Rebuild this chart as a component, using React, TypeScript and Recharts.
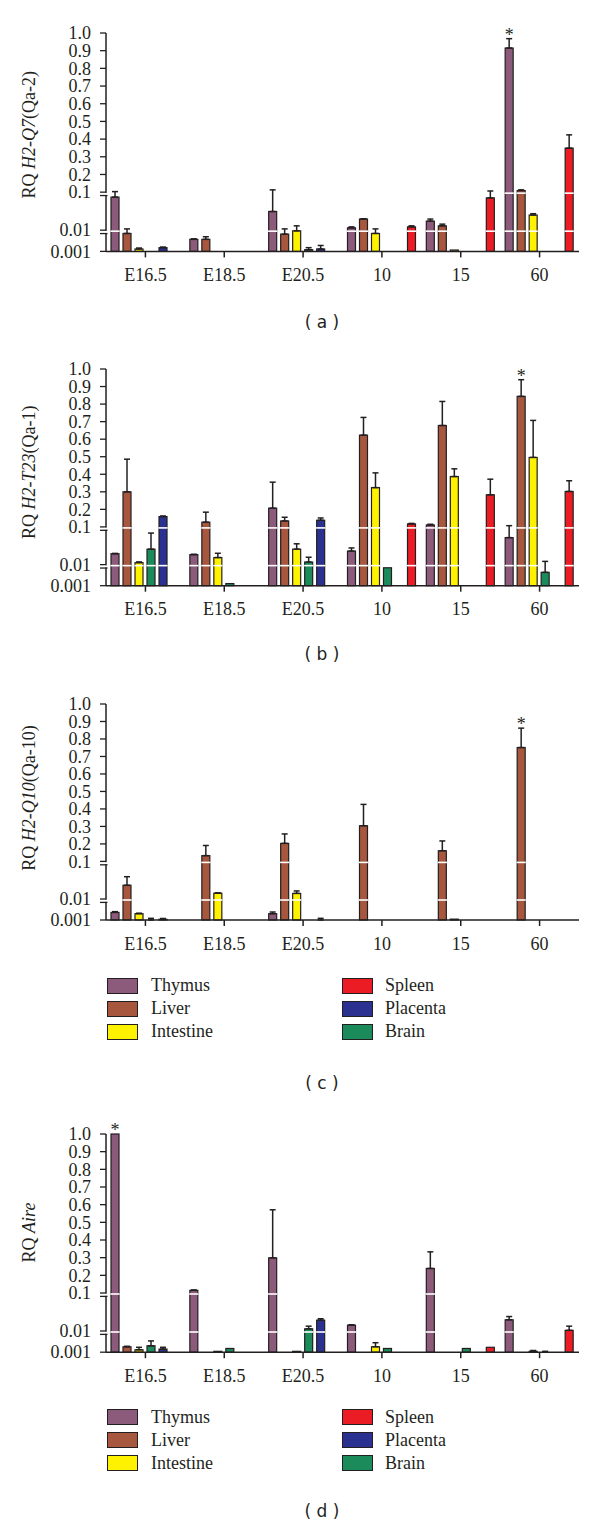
import React from 'react';
import { BarChart, Bar, XAxis, YAxis, ErrorBar, Legend } from 'recharts';

const CATEGORIES = ['E16.5', 'E18.5', 'E20.5', '10', '15', '60'];
const TISSUES = ['Thymus', 'Liver', 'Intestine', 'Brain', 'Placenta', 'Spleen'];
const LEGEND_ORDER = ['Thymus', 'Liver', 'Intestine', 'Spleen', 'Placenta', 'Brain'];
const Y_TICK_LABELS = [0.001, 0.01, 0.1, 0.2, 0.3, 0.4, 0.5, 0.6, 0.7, 0.8, 0.9, 1.0];
const BREAKS = [0.01, 0.1];

const COLORS: Record<string, string> = {
  Thymus: '#8c5a7b',
  Liver: '#a8573f',
  Intestine: '#fff200',
  Brain: '#1b8b5b',
  Placenta: '#2b3190',
  Spleen: '#ec1c24',
};

// (a) H2-Q7 (Qa-2)
const QA2_THYMUS = [0.074, 0.0037, 0.031, 0.0115, 0.0173, 0.915];
const QA2_THYMUS_ERR = [0.029, 0.0002, 0.082, 0.0007, 0.0023, 0.053];
const QA2_LIVER = [0.007, 0.0037, 0.0065, 0.0196, 0.013, 0.109];
const QA2_LIVER_ERR = [0.0038, 0.0012, 0.0043, 0.0004, 0.0014, 0.004];
const QA2_INTESTINE = [0.0013, null, 0.0093, 0.007, 0.00116, 0.025];
const QA2_INTESTINE_ERR = [0.00014, null, 0.0037, 0.0038, null, 0.0021];
const QA2_BRAIN = [null, null, 0.0012, null, null, null];
const QA2_BRAIN_ERR = [null, null, 0.0003, null, null, null];
const QA2_PLACENTA = [0.0015, null, 0.0013, null, null, null];
const QA2_PLACENTA_ERR = [0.0001, null, 0.0006, null, null, null];
const QA2_SPLEEN = [null, null, null, 0.0122, 0.0706, 0.349];
const QA2_SPLEEN_ERR = [null, null, null, 0.0008, 0.036, 0.075];

// (b) H2-T23 (Qa-1)
const QA1_THYMUS = [0.0195, 0.0184, 0.207, 0.0229, 0.111, 0.052];
const QA1_THYMUS_ERR = [0.0003, 0.0004, 0.148, 0.0048, 0.004, 0.055];
const QA1_LIVER = [0.3, 0.127, 0.134, 0.623, 0.678, 0.844];
const QA1_LIVER_ERR = [0.186, 0.057, 0.021, 0.101, 0.137, 0.095];
const QA1_INTESTINE = [0.0113, 0.0154, 0.0257, 0.324, 0.387, 0.496];
const QA1_INTESTINE_ERR = [0.0005, 0.0046, 0.01, 0.084, 0.044, 0.211];
const QA1_BRAIN = [0.0257, 0.00126, 0.0117, 0.0071, null, 0.0043];
const QA1_BRAIN_ERR = [0.043, null, 0.004, null, null, 0.0079];
const QA1_PLACENTA = [0.159, null, 0.138, null, null, null];
const QA1_PLACENTA_ERR = [0.003, null, 0.013, null, null, null];
const QA1_SPLEEN = [null, null, null, 0.117, 0.283, 0.302];
const QA1_SPLEEN_ERR = [null, null, null, 0.003, 0.089, 0.061];

// (c) H2-Q10 (Qa-10)
const QA10_THYMUS = [0.0023, null, 0.002, null, null, null];
const QA10_THYMUS_ERR = [0.0002, null, 0.0004, null, null, null];
const QA10_LIVER = [0.0232, 0.133, 0.203, 0.304, 0.161, 0.751];
const QA10_LIVER_ERR = [0.016, 0.058, 0.054, 0.122, 0.056, 0.111];
const QA10_INTESTINE = [0.002, 0.0143, 0.0141, null, 0.0011, null];
const QA10_INTESTINE_ERR = [0.0001, 0.0002, 0.0023, null, null, null];
const QA10_BRAIN = [0.001, null, null, null, null, null];
const QA10_BRAIN_ERR = [0.0002, null, null, null, null, null];
const QA10_PLACENTA = [0.00108, null, 0.001, null, null, null];
const QA10_PLACENTA_ERR = [0.0001, null, 0.0002, null, null, null];
const QA10_SPLEEN = [null, null, null, null, null, null];
const QA10_SPLEEN_ERR = [null, null, null, null, null, null];

// (d) Aire
const AIRE_THYMUS = [1.0, 0.115, 0.299, 0.0142, 0.239, 0.0197];
const AIRE_THYMUS_ERR = [null, 0.002, 0.272, 0.0004, 0.094, 0.0043];
const AIRE_LIVER = [0.0018, null, null, null, null, null];
const AIRE_LIVER_ERR = [0.0001, null, null, null, null, null];
const AIRE_INTESTINE = [0.0013, 0.0011, 0.0011, 0.0018, null, 0.0011];
const AIRE_INTESTINE_ERR = [0.0004, null, null, 0.001, null, 0.0001];
const AIRE_BRAIN = [0.002, 0.0015, 0.0114, 0.0015, 0.0015, 0.001];
const AIRE_BRAIN_ERR = [0.0014, null, 0.002, null, null, 0.0001];
const AIRE_PLACENTA = [0.0014, null, 0.0193, null, null, null];
const AIRE_PLACENTA_ERR = [0.0003, null, 0.0017, null, null, null];
const AIRE_SPLEEN = [null, null, null, null, 0.0017, 0.0104];
const AIRE_SPLEEN_ERR = [null, null, null, null, null, 0.003];

const INK = '#231f20';
const SERIF = '"Liberation Serif", "DejaVu Serif", serif';
const SANS = '"DejaVu Sans", sans-serif';

// broken axis: two log decades below 0.1, linear from 0.1 to 1.0
const S1 = 1.2;
const S2 = 2.15;
const TOP = S1 + S2 + 9;

const toDisplay = (v: number | null) => {
  if (v == null) return null;
  if (v <= 0.001) return 0;
  if (v <= 0.01) return S1 * Math.log10(v / 0.001);
  if (v <= 0.1) return S1 + S2 * Math.log10(v / 0.01);
  return S1 + S2 + (v - 0.1) * 10;
};

const Y_TICKS = Y_TICK_LABELS.map((v) => toDisplay(v) as number);

const buildRows = (means: Record<string, any[]>, errs: Record<string, any[]>) =>
  CATEGORIES.map((cat, i) => {
    const row: any = { cat };
    TISSUES.forEach((t) => {
      const v = means[t][i];
      const e = errs[t][i];
      row[t] = toDisplay(v);
      row[`${t}_raw`] = v;
      row[`${t}_err`] = v == null || !e ? null : [0, (toDisplay(v + e) as number) - (toDisplay(v) as number)];
    });
    return row;
  });

const PANELS = [
  {
    id: 'a',
    plotTop: 33.3,
    plotH: 218.4,
    labelY: 135,
    captionY: 322,
    legend: false,
    title: [{ t: 'RQ ' }, { t: 'H2-Q7', i: true }, { t: '(Qa-2)' }],
    stars: [['60', 'Thymus']],
    rows: buildRows(
      { Thymus: QA2_THYMUS, Liver: QA2_LIVER, Intestine: QA2_INTESTINE, Brain: QA2_BRAIN, Placenta: QA2_PLACENTA, Spleen: QA2_SPLEEN },
      { Thymus: QA2_THYMUS_ERR, Liver: QA2_LIVER_ERR, Intestine: QA2_INTESTINE_ERR, Brain: QA2_BRAIN_ERR, Placenta: QA2_PLACENTA_ERR, Spleen: QA2_SPLEEN_ERR }
    ),
  },
  {
    id: 'b',
    plotTop: 369.3,
    plotH: 216.7,
    labelY: 472.5,
    captionY: 654,
    legend: false,
    title: [{ t: 'RQ ' }, { t: 'H2-T23', i: true }, { t: '(Qa-1)' }],
    stars: [['60', 'Liver']],
    rows: buildRows(
      { Thymus: QA1_THYMUS, Liver: QA1_LIVER, Intestine: QA1_INTESTINE, Brain: QA1_BRAIN, Placenta: QA1_PLACENTA, Spleen: QA1_SPLEEN },
      { Thymus: QA1_THYMUS_ERR, Liver: QA1_LIVER_ERR, Intestine: QA1_INTESTINE_ERR, Brain: QA1_BRAIN_ERR, Placenta: QA1_PLACENTA_ERR, Spleen: QA1_SPLEEN_ERR }
    ),
  },
  {
    id: 'c',
    plotTop: 704,
    plotH: 216,
    labelY: 798,
    captionY: 1083,
    legend: true,
    title: [{ t: 'RQ ' }, { t: 'H2-Q10', i: true }, { t: '(Qa-10)' }],
    stars: [['60', 'Liver']],
    rows: buildRows(
      { Thymus: QA10_THYMUS, Liver: QA10_LIVER, Intestine: QA10_INTESTINE, Brain: QA10_BRAIN, Placenta: QA10_PLACENTA, Spleen: QA10_SPLEEN },
      { Thymus: QA10_THYMUS_ERR, Liver: QA10_LIVER_ERR, Intestine: QA10_INTESTINE_ERR, Brain: QA10_BRAIN_ERR, Placenta: QA10_PLACENTA_ERR, Spleen: QA10_SPLEEN_ERR }
    ),
  },
  {
    id: 'd',
    plotTop: 1133.5,
    plotH: 218.2,
    labelY: 1232,
    captionY: 1511,
    legend: true,
    title: [{ t: 'RQ ' }, { t: 'Aire', i: true }],
    stars: [['E16.5', 'Thymus']],
    rows: buildRows(
      { Thymus: AIRE_THYMUS, Liver: AIRE_LIVER, Intestine: AIRE_INTESTINE, Brain: AIRE_BRAIN, Placenta: AIRE_PLACENTA, Spleen: AIRE_SPLEEN },
      { Thymus: AIRE_THYMUS_ERR, Liver: AIRE_LIVER_ERR, Intestine: AIRE_INTESTINE_ERR, Brain: AIRE_BRAIN_ERR, Placenta: AIRE_PLACENTA_ERR, Spleen: AIRE_SPLEEN_ERR }
    ),
  },
];

const M_TOP = 20;
const X_AXIS_H = 40;
const LEGEND_H = 90;

const YTick = (props: any) => {
  const { x, y, payload } = props;
  const idx = Y_TICKS.findIndex((d) => Math.abs(d - payload.value) < 1e-6);
  const val = Y_TICK_LABELS[idx];
  const axisX = x + 15;
  return (
    <g>
      <text x={x} y={y} dy="0.35em" textAnchor="end" fill={INK} fontSize={18} fontFamily={SERIF}>
        {val === 1 ? '1.0' : String(val)}
      </text>
      {BREAKS.includes(val) && (
        <g>
          <rect x={axisX - 1.5} y={y + 0.8} width={3} height={2} fill="#fff" />
          <line x1={axisX - 6} x2={axisX + 1.5} y1={y + 3.4} y2={y + 3.4} stroke={INK} strokeWidth={1.3} />
        </g>
      )}
    </g>
  );
};

// rotated axis title, placed in chart coordinates
const YLabel = ({ parts, centerY }: any) => (
  <text transform={`translate(35, ${centerY}) rotate(-90)`} textAnchor="middle" fill={INK} fontSize={18} fontFamily={SERIF}>
    {parts.map((p: any, i: number) => (
      <tspan key={i} fontStyle={p.i ? 'italic' : 'normal'}>
        {p.t}
      </tspan>
    ))}
  </text>
);

const makeShape = (tissue: string, stars: string[][]) => (p: any) => {
  const { x, y, width, height, fill, payload } = p;
  const dv = payload?.[tissue];
  if (dv == null) return <g />;
  const base = y + height;
  const ppu = dv > 0 ? height / dv : 0;
  const starred = stars.some(([c, t]) => c === payload.cat && t === tissue);
  let starY = y;
  if (starred) {
    const err = payload[`${tissue}_err`];
    starY = err ? y - err[1] * ppu : y;
  }
  return (
    <g>
      <rect x={x} y={y} width={width} height={height} fill={fill} stroke={INK} strokeWidth={1.2} />
      {BREAKS.map((b) => {
        const bd = toDisplay(b) as number;
        if (dv <= bd + 0.05) return null;
        const ly = base - bd * ppu + 1;
        return <line key={b} x1={x - 0.6} x2={x + width + 0.6} y1={ly} y2={ly} stroke="#fff" strokeWidth={1.6} />;
      })}
      {starred && (
        <text x={x + width / 2} y={starY + 2} textAnchor="middle" fill={INK} fontSize={18} fontFamily={SERIF}>
          *
        </text>
      )}
    </g>
  );
};

const renderLegend = (props: any) => {
  const items = props.payload ?? [];
  const byName: Record<string, string> = {};
  items.forEach((it: any) => (byName[it.value] = it.color));
  return (
    <div style={{ position: 'relative', width: 600, height: 70 }}>
      {LEGEND_ORDER.map((name, i) => {
        const col = Math.floor(i / 3);
        const row = i % 3;
        return (
          <div
            key={name}
            style={{ position: 'absolute', left: col ? 342 : 107, top: row * 23, display: 'flex', alignItems: 'center', height: 21 }}
          >
            <span
              style={{
                display: 'inline-block',
                width: 31,
                height: 16,
                boxSizing: 'border-box',
                background: byName[name] || COLORS[name],
                border: `1.3px solid ${INK}`,
              }}
            />
            <span style={{ marginLeft: col ? 12 : 13, fontFamily: SERIF, fontSize: 18, color: INK, lineHeight: '21px' }}>{name}</span>
          </div>
        );
      })}
    </div>
  );
};

const Panel = ({ id, plotTop, plotH, labelY, captionY, legend, title, stars, rows }: any) => {
  const bottom = legend ? LEGEND_H : 0;
  return (
    <>
      <div style={{ position: 'absolute', left: 0, top: plotTop - M_TOP }}>
        <BarChart
          width={600}
          height={M_TOP + plotH + X_AXIS_H + bottom}
          data={rows}
          margin={{ top: M_TOP, right: 21, left: 0, bottom }}
          barSize={8}
          barGap={4}
        >
          <XAxis
            dataKey="cat"
            interval={0}
            height={X_AXIS_H}
            tickSize={6}
            tickMargin={11}
            axisLine={{ stroke: INK, strokeWidth: 1.5 }}
            tickLine={{ stroke: INK, strokeWidth: 1.5 }}
            tick={{ fill: INK, fontSize: 18, fontFamily: SERIF }}
          />
          <YAxis
            type="number"
            domain={[0, TOP]}
            ticks={Y_TICKS}
            interval={0}
            width={106}
            tickSize={6}
            tickMargin={9}
            axisLine={{ stroke: INK, strokeWidth: 1.5 }}
            tickLine={{ stroke: INK, strokeWidth: 1.3 }}
            tick={<YTick />}
            label={<YLabel parts={title} centerY={M_TOP + labelY - plotTop} />}
          />
          {TISSUES.map((t) => (
            <Bar key={t} dataKey={t} name={t} fill={COLORS[t]} isAnimationActive={false} shape={makeShape(t, stars)}>
              <ErrorBar
                dataKey={(row: any) => row[`${t}_err`]}
                direction="y"
                width={3}
                strokeWidth={1.5}
                stroke={INK}
                isAnimationActive={false}
              />
            </Bar>
          ))}
          {legend && (
            <Legend
              layout="horizontal"
              verticalAlign="middle"
              align="center"
              content={renderLegend}
              wrapperStyle={{ top: M_TOP + plotH + 55, left: 0, width: 600, height: 70 }}
            />
          )}
        </BarChart>
      </div>
      <div
        style={{
          position: 'absolute',
          left: 222,
          width: 200,
          top: captionY - 10,
          lineHeight: '20px',
          textAlign: 'center',
          fontFamily: SANS,
          fontSize: 17,
          color: INK,
          whiteSpace: 'pre',
        }}
      >
        {`( ${id} )`}
      </div>
    </>
  );
};

export default function App() {
  return (
    <div style={{ position: 'absolute', left: 0, top: 0, width: 600, height: 1526, background: '#fff', overflow: 'hidden' }}>
      {PANELS.map((p) => (
        <Panel key={p.id} {...p} />
      ))}
    </div>
  );
}
